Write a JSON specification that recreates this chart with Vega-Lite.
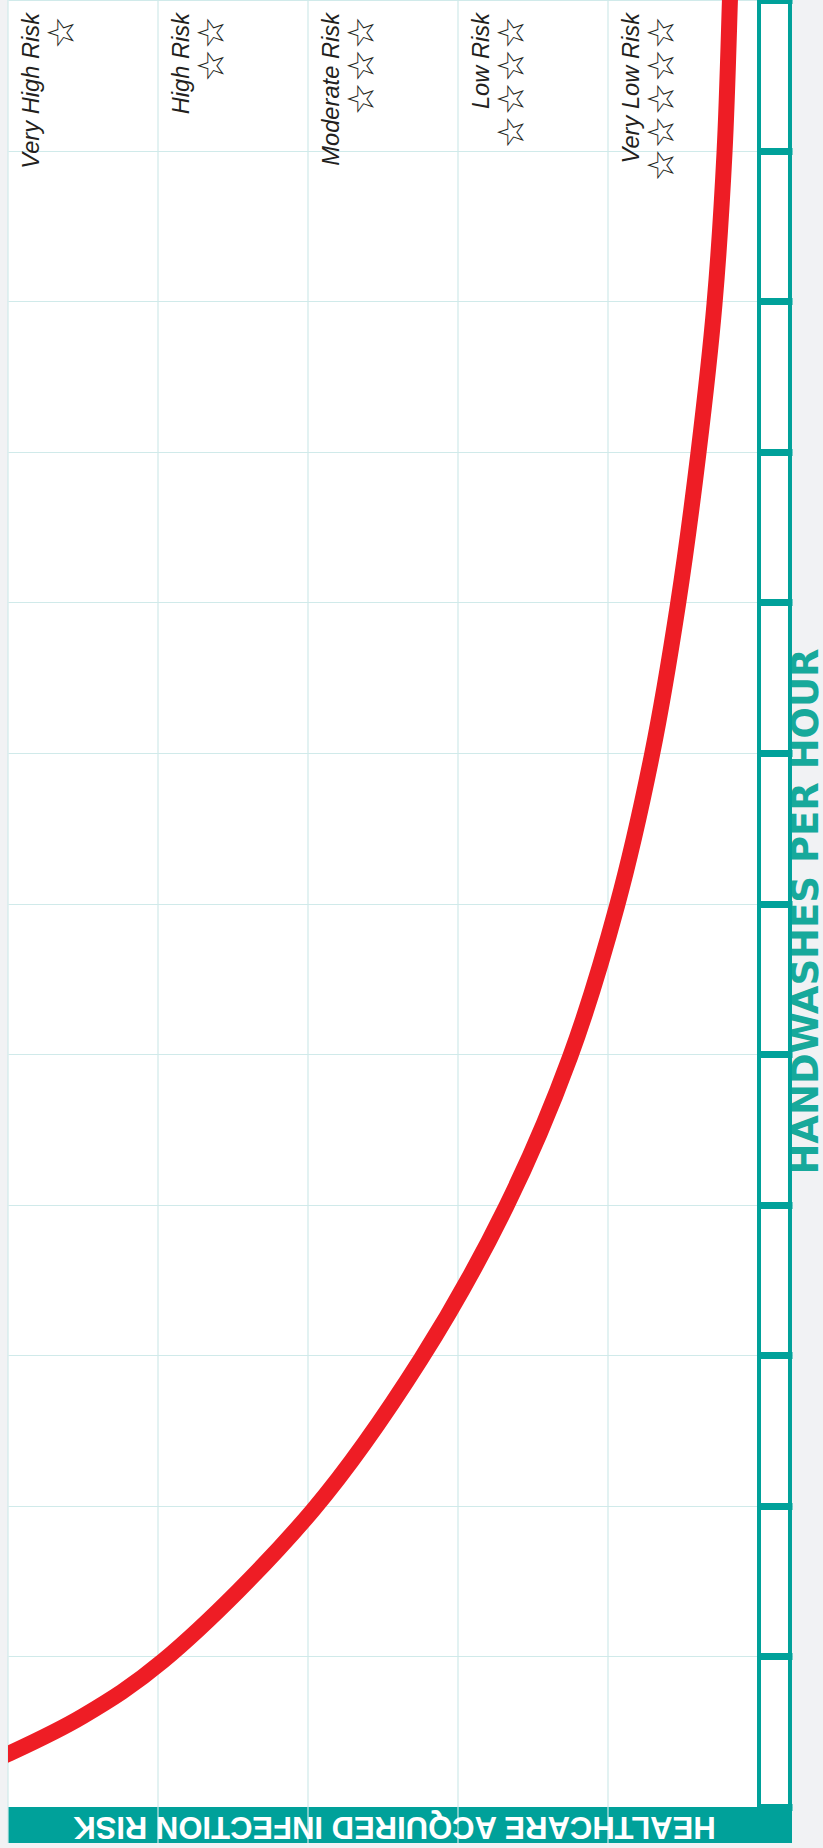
{
  "$schema": "https://vega.github.io/schema/vega-lite/v6.json",
  "width": 784,
  "height": 1843,
  "autosize": {"type": "none"},
  "padding": {"left": 8, "top": 0, "right": 31, "bottom": 5},
  "background": "#f1f2f4",
  "view": {"fill": "#ffffff", "stroke": null},
  "datasets": {
    "curve": [
      {"h": 0.216, "risk": 0.68},
      {"h": 0.352, "risk": 1.0},
      {"h": 0.604, "risk": 1.5},
      {"h": 0.97, "risk": 2.033},
      {"h": 1.972, "risk": 3.033},
      {"h": 2.975, "risk": 3.753},
      {"h": 3.985, "risk": 4.32},
      {"h": 4.981, "risk": 4.747},
      {"h": 5.984, "risk": 5.06},
      {"h": 6.986, "risk": 5.293},
      {"h": 7.989, "risk": 5.467},
      {"h": 8.992, "risk": 5.603},
      {"h": 9.981, "risk": 5.71},
      {"h": 10.991, "risk": 5.777},
      {"h": 12.0, "risk": 5.813},
      {"h": 12.4, "risk": 5.825}
    ],
    "levels": [
      {"level": "Very High Risk", "rank": 1, "stars": "☆"},
      {"level": "High Risk", "rank": 2, "stars": "☆☆"},
      {"level": "Moderate Risk", "rank": 3, "stars": "☆☆☆"},
      {"level": "Low Risk", "rank": 4, "stars": "☆☆☆☆"},
      {"level": "Very Low Risk", "rank": 5, "stars": "☆☆☆☆☆"}
    ]
  },
  "layer": [
    {
      "data": {"values": [{}]},
      "mark": {"type": "rect", "color": "#00a19a"},
      "encoding": {
        "x": {"datum": 1, "type": "quantitative"},
        "x2": {"datum": 6.2267},
        "y": {"datum": -0.239, "type": "quantitative"},
        "y2": {"datum": 0}
      }
    },
    {
      "data": {"values": [{}]},
      "mark": {"type": "rect", "filled": false, "stroke": "#00a19a", "strokeWidth": 4},
      "encoding": {
        "x": {"datum": 6.0067, "type": "quantitative"},
        "x2": {"datum": 6.2133},
        "y": {"datum": 0, "type": "quantitative"},
        "y2": {"datum": 12.05}
      }
    },
    {
      "data": {"name": "levels"},
      "mark": {"type": "rule", "color": "#d0eaea", "strokeWidth": 1.2},
      "encoding": {
        "x": {"field": "rank", "type": "quantitative"},
        "y": {"datum": -0.239, "type": "quantitative"},
        "y2": {"datum": 12.05}
      }
    },
    {
      "data": {"name": "curve"},
      "mark": {"type": "line", "color": "#ee1d25", "strokeWidth": 16, "interpolate": "catmull-rom", "clip": true},
      "encoding": {
        "order": {"field": "h", "type": "quantitative"},
        "x": {
          "field": "risk",
          "type": "quantitative",
          "scale": {"domain": [1, 6.2267], "nice": false, "zero": false},
          "axis": {
            "title": "HEALTHCARE ACQUIRED INFECTION RISK",
            "orient": "bottom",
            "grid": false,
            "ticks": false,
            "labels": false,
            "domain": false,
            "zindex": 1,
            "titleAngle": 180,
            "titleColor": "#ffffff",
            "titleFont": "Liberation Sans",
            "titleFontSize": 31,
            "titleFontWeight": "bold",
            "titleX": 386,
            "titleY": -18,
            "titleAlign": "center",
            "titleBaseline": "middle"
          }
        },
        "y": {
          "field": "h",
          "type": "quantitative",
          "scale": {"domain": [-0.239, 12], "nice": false, "zero": false},
          "axis": {
            "title": "HANDWASHES PER HOUR",
            "orient": "right",
            "offset": -33,
            "values": [0, 1, 2, 3, 4, 5, 6, 7, 8, 9, 10, 11, 12],
            "grid": true,
            "gridColor": "#d0eaea",
            "gridWidth": 1.2,
            "ticks": true,
            "tickColor": "#00a19a",
            "tickWidth": 7,
            "tickSize": 33,
            "labels": false,
            "domain": false,
            "zindex": 0,
            "titleAngle": 270,
            "titleColor": "#17a99b",
            "titleFont": "DejaVu Sans",
            "titleFontSize": 37,
            "titleFontWeight": "bold",
            "titleX": 47.5,
            "titleY": 911,
            "titleAlign": "center",
            "titleBaseline": "middle"
          }
        }
      }
    },
    {
      "data": {"name": "levels"},
      "mark": {"type": "text", "angle": 270, "align": "right", "baseline": "middle", "dx": -13, "dy": 24, "font": "Liberation Sans", "fontStyle": "italic", "fontSize": 23.7, "color": "#231f20"},
      "encoding": {
        "x": {"field": "rank", "type": "quantitative"},
        "y": {"datum": 12, "type": "quantitative"},
        "text": {"field": "level"}
      }
    },
    {
      "data": {"name": "levels"},
      "mark": {"type": "text", "angle": 270, "align": "right", "baseline": "middle", "dx": -16, "dy": 55, "font": "DejaVu Sans", "fontSize": 37, "color": "#231f20"},
      "encoding": {
        "x": {"field": "rank", "type": "quantitative"},
        "y": {"datum": 12, "type": "quantitative"},
        "text": {"field": "stars"}
      }
    }
  ]
}
